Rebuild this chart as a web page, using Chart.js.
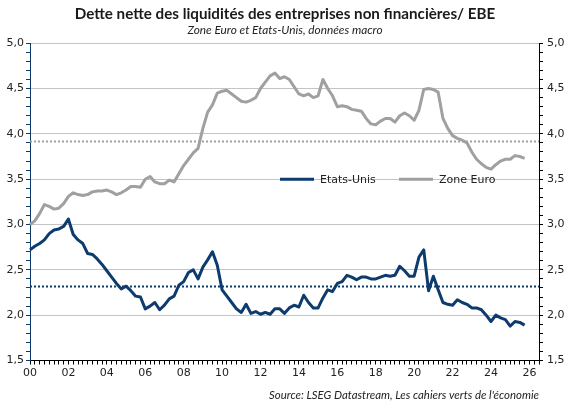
<!DOCTYPE html>
<html><head><meta charset="utf-8">
<script src="https://cdn.jsdelivr.net/npm/chart.js@4"></script>
<style>html,body{margin:0;padding:0;background:#fff}#wrap{width:570px;height:402px}</style>
</head><body><div id="wrap"><canvas id="c"></canvas></div>
<script>
// ---- data ----
const startYear = 2000;
const quarterCount = 107; // 2000T1 .. 2026T3 (axis extent)
const quarters = [];
for (let i = 0; i < quarterCount; i++) quarters.push((startYear + Math.floor(i / 4)) + 'T' + (i % 4 + 1));

const seriesNames = ['Etats-Unis', 'Zone Euro'];

const usValues = [
  2.72,2.76,2.79,2.83,2.90,2.94,2.95,2.98,3.06,2.89,
  2.83,2.79,2.68,2.67,2.62,2.56,2.49,2.42,2.35,2.29,
  2.32,2.27,2.21,2.20,2.07,2.10,2.14,2.06,2.11,2.18,
  2.21,2.33,2.37,2.47,2.50,2.40,2.53,2.61,2.70,2.55,
  2.28,2.21,2.14,2.07,2.03,2.12,2.02,2.04,2.01,2.03,
  2.01,2.07,2.07,2.02,2.08,2.11,2.09,2.22,2.14,2.08,
  2.08,2.19,2.28,2.26,2.35,2.37,2.44,2.42,2.39,2.42,
  2.42,2.40,2.40,2.42,2.44,2.43,2.44,2.54,2.49,2.43,
  2.43,2.64,2.72,2.27,2.43,2.28,2.14,2.12,2.11,2.17,
  2.14,2.12,2.08,2.08,2.06,2.00,1.93,2.00,1.97,1.95,
  1.88,1.93,1.92,1.89
];

const euroValues = [
  3.00,3.04,3.12,3.22,3.20,3.17,3.18,3.23,3.31,3.35,
  3.33,3.32,3.33,3.36,3.37,3.37,3.38,3.36,3.33,3.35,
  3.38,3.42,3.42,3.41,3.50,3.53,3.47,3.45,3.45,3.49,
  3.47,3.56,3.65,3.72,3.79,3.84,4.06,4.24,4.32,4.45,
  4.47,4.48,4.44,4.40,4.36,4.35,4.37,4.40,4.50,4.57,
  4.64,4.67,4.61,4.63,4.60,4.52,4.44,4.42,4.44,4.40,
  4.42,4.60,4.50,4.42,4.30,4.31,4.30,4.27,4.26,4.25,
  4.17,4.11,4.10,4.14,4.17,4.17,4.13,4.20,4.23,4.20,
  4.15,4.26,4.49,4.50,4.49,4.46,4.17,4.06,3.98,3.95,
  3.93,3.90,3.80,3.72,3.67,3.63,3.61,3.66,3.70,3.72,
  3.72,3.76,3.75,3.73
];

const usAverage = 2.32;
const euroAverage = 3.92;

const yMin = 1.5, yMax = 5.0, yMinorStep = 0.1;
const xLabelEvery = 8; // one label every 2 years

const titleText = 'Dette nette des liquidités des entreprises non financières/ EBE';
const subtitleText = 'Zone Euro et Etats-Unis, données macro';
const sourceText = "Source: LSEG Datastream, Les cahiers verts de l'économie";

// ---- styles ----
const usColor = '#0d3b6e';
const euroColor = '#a0a0a0';
const tickFont = { family: 'DejaVu Sans', size: 11 };

const isMajor = v => Math.abs(v * 2 - Math.round(v * 2)) < 1e-6;
const yLabel = v => isMajor(v) ? Number(v).toFixed(1).replace('.', ',') : '';

const meanLines = {
  id: 'meanLines',
  beforeDatasetsDraw(chart) {
    const { ctx, chartArea: a, scales: { y } } = chart;
    [[usAverage, usColor], [euroAverage, euroColor]].forEach(([v, c]) => {
      const py = Math.round(y.getPixelForValue(v)) + 0.5;
      ctx.save();
      ctx.setLineDash([2, 2]);
      ctx.lineWidth = 2;
      ctx.strokeStyle = c;
      ctx.beginPath();
      ctx.moveTo(a.left, py);
      ctx.lineTo(a.right, py);
      ctx.stroke();
      ctx.restore();
    });
  }
};

const inLegend = {
  id: 'inLegend',
  afterDatasetsDraw(chart) {
    const { ctx, scales: { y } } = chart;
    const py = y.getPixelForValue(3.5);
    const items = [
      { x: 280, color: usColor, text: chart.data.datasets[0].label },
      { x: 399, color: euroColor, text: chart.data.datasets[1].label }
    ];
    ctx.save();
    ctx.font = '11px "DejaVu Sans"';
    ctx.textBaseline = 'middle';
    ctx.fillStyle = '#222';
    items.forEach(it => {
      ctx.strokeStyle = it.color;
      ctx.lineWidth = 3;
      ctx.setLineDash([]);
      ctx.beginPath();
      ctx.moveTo(it.x, py);
      ctx.lineTo(it.x + 34, py);
      ctx.stroke();
      ctx.fillText(it.text, it.x + 40, py + 1);
    });
    ctx.restore();
  }
};

new Chart(document.getElementById('c'), {
  type: 'line',
  data: {
    labels: quarters,
    datasets: [
      { label: seriesNames[0], data: usValues, borderColor: usColor, backgroundColor: usColor,
        borderWidth: 3, pointRadius: 0, tension: 0, yAxisID: 'y', borderJoinStyle: 'round' },
      { label: seriesNames[1], data: euroValues, borderColor: euroColor, backgroundColor: euroColor,
        borderWidth: 3, pointRadius: 0, tension: 0, yAxisID: 'y', borderJoinStyle: 'round' }
    ]
  },
  options: {
    responsive: true,
    maintainAspectRatio: false,
    animation: false,
    devicePixelRatio: 1,
    layout: { padding: 0 },
    plugins: {
      legend: { display: false },
      tooltip: { enabled: false },
      title: {
        display: true, text: titleText, color: '#1a1a1a',
        font: { family: 'Lato', size: 15.2, weight: 'bold', lineHeight: 1.2 },
        padding: { top: 5, bottom: 0 }
      },
      subtitle: {
        display: true, text: subtitleText, color: '#222',
        font: { family: 'Lato', size: 11.8, style: 'italic', lineHeight: 1.2 },
        padding: { top: 0, bottom: 5.8 }
      }
    },
    scales: {
      x: {
        type: 'category',
        offset: false,
        grid: { drawOnChartArea: false, tickLength: 4, tickColor: '#000', lineWidth: 1 },
        border: { color: '#000', width: 1 },
        ticks: {
          autoSkip: false, maxRotation: 0, minRotation: 0, padding: 2, color: '#222', font: tickFont,
          callback: (val, idx) => idx % xLabelEvery === 0 ? String((startYear + idx / 4) % 100).padStart(2, '0') : ''
        },
        title: {
          display: true, text: sourceText, align: 'end', color: '#222',
          font: { family: 'Lato', size: 11.4, style: 'italic', lineHeight: 1.2 },
          padding: { top: 3, bottom: 0 }
        },
        afterFit: s => { s.height = 41.5; }
      },
      y: {
        position: 'left', min: yMin, max: yMax,
        grid: {
          color: ctx => (ctx.tick && isMajor(ctx.tick.value) && ctx.tick.value > yMin) ? '#c4c4c4' : 'rgba(0,0,0,0)',
          borderDash: [1, 1], tickLength: 4, tickColor: usColor, tickBorderDash: []
        },
        border: { color: usColor, width: 1 },
        ticks: { stepSize: yMinorStep, autoSkip: false, padding: 2, color: '#222', font: tickFont, callback: yLabel },
        afterFit: s => { s.width = 30; }
      },
      y2: {
        position: 'right', min: yMin, max: yMax,
        grid: { drawOnChartArea: false, tickLength: 4, tickColor: '#000' },
        border: { color: '#000', width: 1 },
        ticks: { stepSize: yMinorStep, autoSkip: false, padding: 4, color: '#222', font: tickFont, callback: yLabel },
        afterFit: s => { s.width = 31; }
      }
    }
  },
  plugins: [meanLines, inLegend]
});
</script>
</body></html>
